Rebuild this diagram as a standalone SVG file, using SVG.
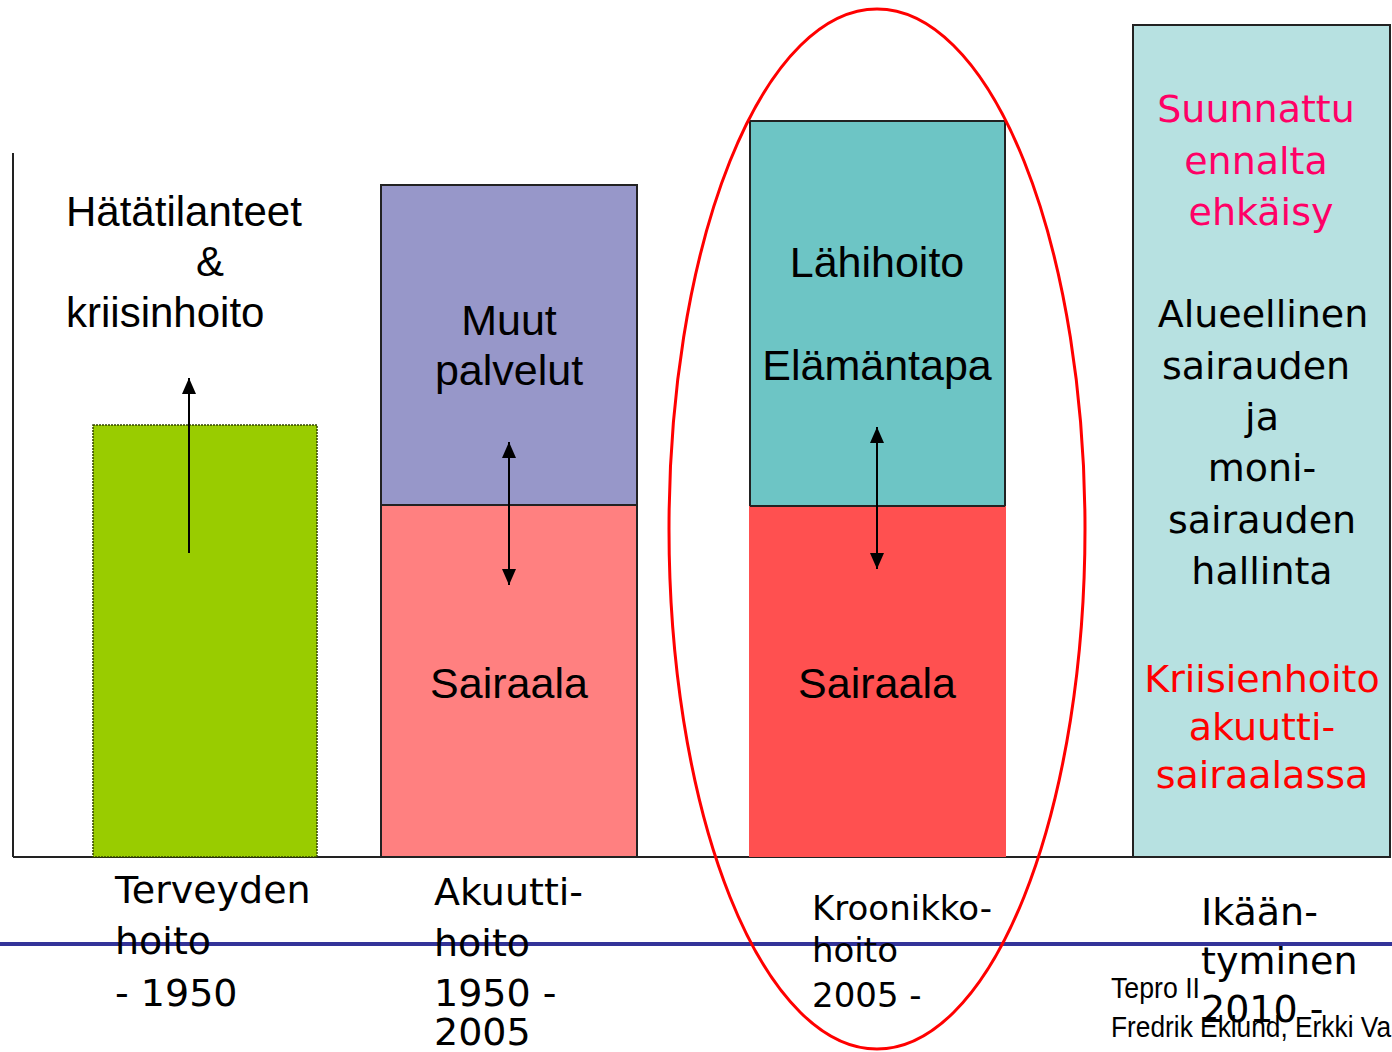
<svg xmlns="http://www.w3.org/2000/svg" width="1392" height="1052" viewBox="0 0 1392 1052">
<style>
.sans{font-family:"Liberation Sans",Arial,sans-serif;fill:#000}
.comic{font-family:"Comic Sans MS","DejaVu Sans",sans-serif;fill:#000}
.box{stroke:#222;stroke-width:2}
.arr{stroke:#000;stroke-width:2;fill:none}
.mid{text-anchor:middle}
</style>
<defs>
<marker id="ah" viewBox="0 0 16 14" markerWidth="16" markerHeight="14" refX="16" refY="7" orient="auto-start-reverse" markerUnits="userSpaceOnUse">
<path d="M0,0 L16,7 L0,14 z" fill="#000"/>
</marker>
</defs>
<rect width="1392" height="1052" fill="#fff"/>
<g id="axes" stroke="#222" stroke-width="2">
<line x1="13" y1="153" x2="13" y2="857"/>
<line x1="13" y1="857" x2="1166" y2="857"/>
</g>
<line id="blue-rule" x1="0" y1="944" x2="1392" y2="944" stroke="#333399" stroke-width="4"/>
<g id="node-green">
<rect x="93" y="425" width="224" height="432" fill="#99CC00" stroke="#334400" stroke-width="1.5" stroke-dasharray="2 1"/>
</g>
<g id="node-emergency">
<text class="sans" x="66" y="226" font-size="42">Hätätilanteet</text>
<text class="sans" x="210" y="276" font-size="42" text-anchor="middle">&amp;</text>
<text class="sans" x="66" y="327" font-size="42">kriisinhoito</text>
</g>
<g id="node-muut">
<rect class="box" x="381" y="185" width="256" height="320" fill="#9797C9"/>
<text class="sans mid" x="509" y="335" font-size="43">Muut</text>
<text class="sans mid" x="509" y="385" font-size="43">palvelut</text>
</g>
<g id="node-sairaala1">
<rect class="box" x="381" y="505" width="256" height="352" fill="#FF8080"/>
<text class="sans mid" x="509" y="698" font-size="43">Sairaala</text>
</g>
<g id="node-lahihoito">
<rect class="box" x="750" y="121" width="255" height="385" fill="#6DC5C5"/>
<text class="sans mid" x="877" y="277" font-size="43">Lähihoito</text>
<text class="sans mid" x="877" y="380" font-size="43">Elämäntapa</text>
</g>
<g id="node-sairaala2">
<rect x="749" y="506" width="257" height="351" fill="#FF5050"/>
<line x1="750" y1="506" x2="1005" y2="506" stroke="#222" stroke-width="2"/>
<text class="sans mid" x="877" y="698" font-size="43">Sairaala</text>
</g>
<g id="node-future">
<rect class="box" x="1133" y="25" width="257" height="832" fill="#B7E1E1"/>
<g class="comic mid" font-size="38">
<text x="1256" y="122" fill="#FF0066">Suunnattu</text>
<text x="1256" y="174" fill="#FF0066">ennalta</text>
<text x="1261" y="225" fill="#FF0066">ehkäisy</text>
<text x="1263" y="327">Alueellinen</text>
<text x="1256" y="379">sairauden</text>
<text x="1262" y="430">ja</text>
<text x="1262" y="481">moni-</text>
<text x="1262" y="533">sairauden</text>
<text x="1262" y="584">hallinta</text>
<text x="1262" y="692" fill="#FF0000">Kriisienhoito</text>
<text x="1262" y="740" fill="#FF0000">akuutti-</text>
<text x="1262" y="788" fill="#FF0000">sairaalassa</text>
</g>
</g>
<g id="connectors">
<line class="arr" x1="189" y1="553" x2="189" y2="378" marker-end="url(#ah)"/>
<line class="arr" x1="509" y1="442" x2="509" y2="585" marker-start="url(#ah)" marker-end="url(#ah)"/>
<line class="arr" x1="877" y1="427" x2="877" y2="569" marker-start="url(#ah)" marker-end="url(#ah)"/>
</g>
<g id="labels" class="comic" font-size="38">
<text x="115" y="903">Terveyden</text>
<text x="115" y="954">hoito</text>
<text x="115" y="1006">- 1950</text>
<text x="434" y="905">Akuutti-</text>
<text x="434" y="956">hoito</text>
<text x="434" y="1006">1950 -</text>
<text x="434" y="1045">2005</text>
<text x="812" y="920" font-size="34">Kroonikko-</text>
<text x="812" y="962" font-size="34">hoito</text>
<text x="812" y="1007" font-size="34">2005 -</text>
<text x="1201" y="925">Ikään-</text>
<text x="1201" y="974">tyminen</text>
</g>
<g id="footer">
<text class="sans" x="1111" y="998" font-size="29" textLength="89" lengthAdjust="spacingAndGlyphs">Tepro II</text>
<text class="comic" x="1201" y="1022" font-size="38">2010 -</text>
<text class="sans" x="1111" y="1037" font-size="29" textLength="280" lengthAdjust="spacingAndGlyphs">Fredrik Eklund, Erkki Va</text>
</g>
<g id="highlight">
<ellipse cx="877" cy="529" rx="208" ry="520" fill="none" stroke="#FF0000" stroke-width="3"/>
</g>
</svg>
